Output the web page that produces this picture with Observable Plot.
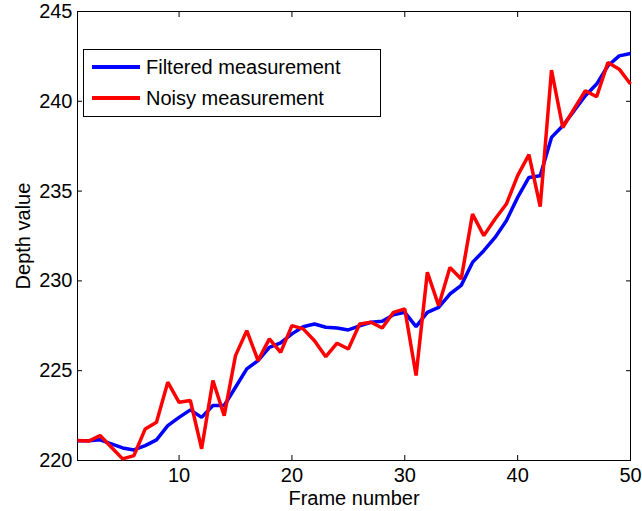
<!DOCTYPE html>
<html><head><meta charset="utf-8">
<script src="https://cdn.jsdelivr.net/npm/d3@7"></script>
<script src="https://cdn.jsdelivr.net/npm/@observablehq/plot@0.6"></script>
<style>
body{margin:0;background:#fff;font-family:"Liberation Sans",Arial,sans-serif}
#wrap{position:relative;width:642px;height:511px}
#legend{position:absolute;left:83px;top:49px;width:298px;height:68px;border:1px solid #000;box-sizing:border-box;background:#fff;font-size:20px;z-index:2}
#legend .row{position:absolute;left:0;height:24px;display:flex;align-items:center}
#legend svg{margin-left:8px;margin-right:6px}
</style></head><body>
<div id="wrap"><div id="legend"></div></div>
<script>
const frames = [1,2,3,4,5,6,7,8,9,10,11,12,13,14,15,16,17,18,19,20,21,22,23,24,25,26,27,28,29,30,31,32,33,34,35,36,37,38,39,40,41,42,43,44,45,46,47,48,49,50];
const filtered = [221.1,221.1,221.15,220.93,220.7,220.59,220.83,221.15,221.94,222.4,222.82,222.4,223.06,223.06,224.08,225.1,225.56,226.3,226.55,227.05,227.45,227.6,227.42,227.38,227.27,227.5,227.7,227.75,228.12,228.25,227.45,228.25,228.53,229.27,229.75,231.03,231.68,232.42,233.35,234.65,235.76,235.86,237.99,238.64,239.47,240.31,240.96,241.98,242.53,242.66];
const noisy = [221.11,221.08,221.39,220.74,220.09,220.27,221.76,222.13,224.36,223.24,223.34,220.65,224.45,222.5,225.84,227.23,225.56,226.77,226.02,227.51,227.33,226.67,225.78,226.53,226.21,227.6,227.7,227.38,228.25,228.44,224.73,230.48,228.62,230.75,230.11,233.72,232.52,233.45,234.28,235.86,237.03,234.13,241.74,238.54,239.57,240.59,240.25,242.16,241.79,240.96];
const seriesNames = ["Filtered measurement","Noisy measurement"];
const seriesColors = ["#0000ff","#ff0000"];
const xTicks = [10,20,30,40,50];
const yTicks = [220,225,230,235,240,245];

const rows = [];
frames.forEach((f,i)=>{ rows.push({frame:f, value:filtered[i], series:seriesNames[0]}); });
frames.forEach((f,i)=>{ rows.push({frame:f, value:noisy[i], series:seriesNames[1]}); });

const chart = Plot.plot({
  width: 642, height: 511,
  marginLeft: 77, marginRight: 12, marginTop: 11, marginBottom: 51,
  style: {fontFamily: '"Liberation Sans", Arial, sans-serif', fontSize: "20px", color: "#000", background: "#fff"},
  x: {domain: [1,50]},
  y: {domain: [220,245]},
  color: {domain: seriesNames, range: seriesColors},
  marks: [
    Plot.frame({stroke:"#000", strokeWidth:1}),
    Plot.axisX({anchor:"bottom", ticks:xTicks, tickSize:-5, tickPadding:12, label:"Frame number", labelAnchor:"center", labelOffset:44, labelArrow:"none", fontSize:20}),
    Plot.axisX({anchor:"top", ticks:xTicks, tickSize:-5, tickFormat:()=>"", label:null}),
    Plot.axisY({anchor:"left", ticks:yTicks, tickSize:-5, tickPadding:10, label:"Depth value", labelAnchor:"center", labelOffset:62, labelArrow:"none", fontSize:20}),
    Plot.axisY({anchor:"right", ticks:yTicks, tickSize:-5, tickFormat:()=>"", label:null}),
    Plot.line(rows, {x:"frame", y:"value", z:"series", stroke:"series", strokeWidth:3.5, strokeLinejoin:"miter", strokeLinecap:"butt"})
  ]
});
document.getElementById("wrap").appendChild(chart);

const legend = document.getElementById("legend");
seriesNames.forEach((name,i)=>{
  const row = document.createElement("div");
  row.className = "row";
  row.style.top = (5 + i*31) + "px";
  row.innerHTML = `<svg width="48" height="10"><line x1="0" y1="5" x2="48" y2="5" stroke="${seriesColors[i]}" stroke-width="4"/></svg><span>${name}</span>`;
  legend.appendChild(row);
});
</script>
</body></html>
